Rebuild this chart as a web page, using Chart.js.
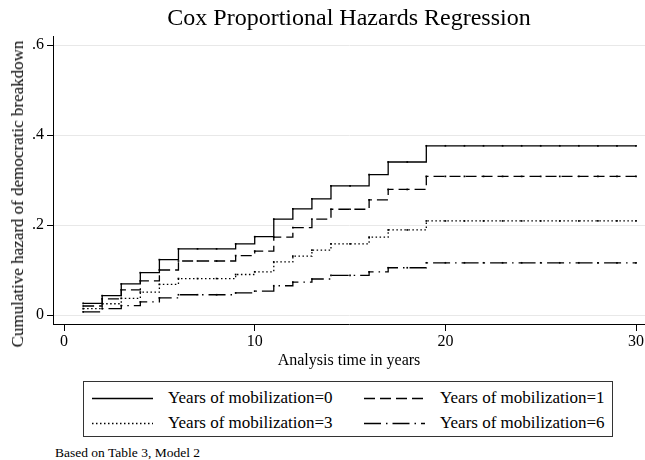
<!DOCTYPE html>
<html>
<head>
<meta charset="utf-8">
<script src="https://cdn.jsdelivr.net/npm/chart.js@4"></script>
<style>
  body { margin: 0; background: #fff; font-family: "Liberation Serif", serif; }
  #wrap { position: relative; width: 645px; height: 460px; overflow: hidden; }
  #plot { position: absolute; left: 0; top: 0; }
  #ytitle { position: absolute; left: 18px; top: 194px; transform: translate(-50%, -50%) rotate(-90deg);
            white-space: nowrap; font-size: 17px; color: #000; }
  #legend { position: absolute; left: 83px; top: 381px; width: 530px; height: 56px;
            box-sizing: border-box; border: 1px solid #333; }
  .item { position: absolute; font-size: 17px; line-height: 20px; white-space: nowrap; color: #000; }
  .item svg { position: absolute; top: 9px; }
  #note { position: absolute; left: 55px; top: 445px; font-size: 13.5px; white-space: nowrap; }
</style>
</head>
<body>
<div id="wrap">
  <canvas id="plot" width="645" height="375"></canvas>
  <div id="ytitle">Cumulative hazard of democratic breakdown</div>
  <div id="legend"></div>
  <div id="note">Based on Table 3, Model 2</div>
</div>
<script>
// analysis time (years)
const times = [1, 2, 3, 4, 5, 6, 7, 8, 9, 10, 11, 12, 13, 14, 15,
               16, 17, 18, 19, 20, 21, 22, 23, 24, 25, 26, 27, 28, 29, 30];

// cumulative hazard
const mob0 = [0.026, 0.043, 0.069, 0.094, 0.123, 0.147, 0.147, 0.147, 0.158, 0.174, 0.213, 0.236, 0.258, 0.287, 0.287,
              0.312, 0.340, 0.340, 0.376, 0.376, 0.376, 0.376, 0.376, 0.376, 0.376, 0.376, 0.376, 0.376, 0.376, 0.376];
const mob1 = [0.020, 0.036, 0.056, 0.076, 0.100, 0.120, 0.120, 0.120, 0.132, 0.142, 0.173, 0.194, 0.213, 0.235, 0.235,
              0.256, 0.279, 0.279, 0.308, 0.308, 0.308, 0.308, 0.308, 0.308, 0.308, 0.308, 0.308, 0.308, 0.308, 0.308];
const mob3 = [0.014, 0.025, 0.037, 0.051, 0.068, 0.081, 0.081, 0.081, 0.090, 0.096, 0.118, 0.131, 0.144, 0.158, 0.158,
              0.173, 0.189, 0.189, 0.209, 0.209, 0.209, 0.209, 0.209, 0.209, 0.209, 0.209, 0.209, 0.209, 0.209, 0.209];
const mob6 = [0.007, 0.014, 0.021, 0.029, 0.038, 0.045, 0.045, 0.045, 0.049, 0.053, 0.065, 0.073, 0.080, 0.088, 0.088,
              0.096, 0.105, 0.105, 0.116, 0.116, 0.116, 0.116, 0.116, 0.116, 0.116, 0.116, 0.116, 0.116, 0.116, 0.116];

const seriesLabels = ['Years of mobilization=0', 'Years of mobilization=1',
                      'Years of mobilization=3', 'Years of mobilization=6'];
const xTicks = [0, 10, 20, 30];
const yTicks = [0, 0.2, 0.4, 0.6];
const yTickLabels = ['0', '.2', '.4', '.6'];

const dashes = [[], [11, 5], [1.5, 2.5], [17, 5, 1.5, 5]];
const serif = 'Liberation Serif';

function toPoints(vals) {
    return vals.map((v, i) => ({ x: times[i], y: v }));
}

const datasets = [mob0, mob1, mob3, mob6].map((vals, i) => ({
    label: seriesLabels[i],
    data: toPoints(vals),
    stepped: true,
    borderColor: '#000',
    borderWidth: 1.3,
    borderDash: dashes[i],
    pointRadius: 1.2,
    pointHoverRadius: 0,
    pointHitRadius: 0,
    pointStyle: 'rect',
    pointBackgroundColor: '#000',
    pointBorderWidth: 0,
    fill: false
}));

new Chart(document.getElementById('plot'), {
    type: 'line',
    data: { datasets: datasets },
    options: {
        responsive: false,
        animation: false,
        events: [],
        layout: { padding: 0, autoPadding: false },
        plugins: {
            legend: { display: false },
            tooltip: { enabled: false },
            title: {
                display: true,
                fullSize: false,
                text: 'Cox Proportional Hazards Regression',
                color: '#000',
                font: { family: serif, size: 24, weight: 'normal' },
                padding: { top: 4, bottom: 3.2 }
            }
        },
        scales: {
            x: {
                type: 'linear',
                min: -0.58,
                max: 30.47,
                afterBuildTicks: s => { s.ticks = xTicks.map(v => ({ value: v })); },
                afterFit: s => { s.height = 51; s.paddingLeft = 0; s.paddingRight = 0; },
                grid: { drawOnChartArea: false, tickLength: 7, tickColor: '#000' },
                border: { color: '#000', width: 1 },
                ticks: { color: '#000', padding: 1, font: { family: serif, size: 16 }, maxRotation: 0 },
                title: {
                    display: true,
                    text: 'Analysis time in years',
                    color: '#000',
                    font: { family: serif, size: 16 },
                    padding: { top: 0, bottom: 4.4 }
                }
            },
            y: {
                min: -0.02,
                max: 0.62,
                afterBuildTicks: s => { s.ticks = yTicks.map(v => ({ value: v })); },
                afterFit: s => { s.width = 53; },
                grid: { color: '#e8e8e8', lineWidth: 1, tickLength: 6, tickColor: '#000' },
                border: { color: '#000', width: 1 },
                ticks: {
                    color: '#000',
                    padding: 3,
                    font: { family: serif, size: 16 },
                    callback: (v) => yTickLabels[yTicks.indexOf(v)]
                }
            }
        }
    }
});

// legend box (two columns, Stata style)
const legend = document.getElementById('legend');
const cols = [[8, 84], [280, 356]];   // sample start, text start (inside box)
const rows = [6, 31];
const order = [[0, 0], [1, 0], [0, 1], [1, 1]];
seriesLabels.forEach((lab, i) => {
    const [c, r] = order[i];
    const el = document.createElement('div');
    el.className = 'item';
    el.style.left = cols[c][0] + 'px';
    el.style.top = rows[r] + 'px';
    const dash = dashes[i].length ? dashes[i].join(' ') : 'none';
    el.innerHTML = '<svg width="62" height="3" style="left:0"><line x1="0" y1="1.5" x2="61" y2="1.5" stroke="#000" stroke-width="1.3" stroke-dasharray="' + dash + '"/></svg>' +
        '<span style="position:absolute;left:' + (cols[c][1] - cols[c][0]) + 'px;top:0">' + lab + '</span>';
    legend.appendChild(el);
});
</script>
</body>
</html>
